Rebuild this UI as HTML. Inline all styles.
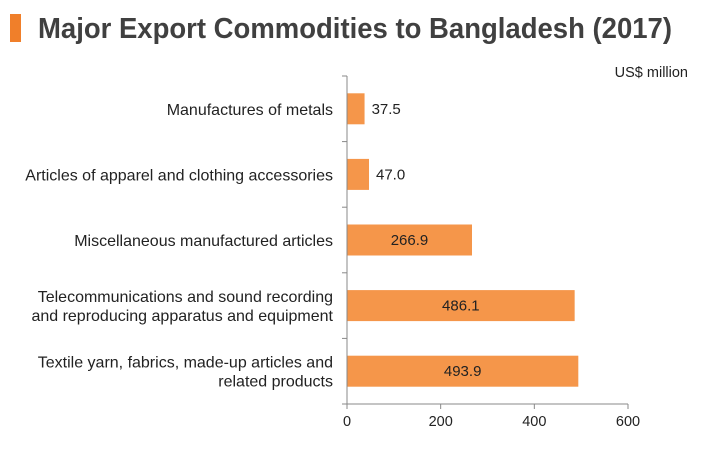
<!DOCTYPE html>
<html><head><meta charset="utf-8"><style>
html,body{margin:0;padding:0;background:#fff;width:702px;height:452px;overflow:hidden}
svg{display:block;font-family:"Liberation Sans",Arial,sans-serif}
</style></head><body>
<svg id="chart" width="702" height="452" viewBox="0 0 702 452">
<rect x="10" y="14" width="11" height="28" fill="#f07f2a"/>
<text x="38" y="38" font-size="29" font-weight="bold" fill="#404040" textLength="634" lengthAdjust="spacingAndGlyphs">Major Export Commodities to Bangladesh (2017)</text>
<text x="688" y="77" font-size="14.5" fill="#222" text-anchor="end">US$ million</text>
<g id="plot"></g>
</svg>
<script>
const categories = [
  ["Manufactures of metals"],
  ["Articles of apparel and clothing accessories"],
  ["Miscellaneous manufactured articles"],
  ["Telecommunications and sound recording","and reproducing apparatus and equipment"],
  ["Textile yarn, fabrics, made-up articles and","related products"]
];
const values = [37.5, 47.0, 266.9, 486.1, 493.9];
const valueLabels = ["37.5","47.0","266.9","486.1","493.9"];
const xTicks = [0, 200, 400, 600];

const NS = "http://www.w3.org/2000/svg";
const g = document.getElementById("plot");
const x0 = 347, x1 = 628, xMax = 600, yTop = 76, yBot = 404;
const band = (yBot - yTop) / categories.length;
const xs = v => x0 + (v / xMax) * (x1 - x0);
const yc = i => yTop + band * (i + 0.5);
function el(tag, attrs, txt){const e=document.createElementNS(NS,tag);for(const k in attrs)e.setAttribute(k,attrs[k]);if(txt!==undefined)e.textContent=txt;g.appendChild(e);return e;}

categories.forEach((lines, i) => {
  const cy = yc(i), h = 31;
  const bar = el("rect", {x:x0, y:cy-h/2, width:xs(values[i])-x0, height:h, fill:"#f5964a"});
  
  
  const inside = values[i] > 150;
  const vl = el("text", {x: inside ? (x0+xs(values[i]))/2 : xs(values[i])+7, y:cy+5, "font-size":15, fill:"#222", "text-anchor": inside?"middle":"start"}, valueLabels[i]);
  
  
  const n = lines.length;
  lines.forEach((ln, j) => {
    const t = el("text", {x:333, y:cy+6+(j-(n-1)/2)*19, "font-size":16, fill:"#222", "text-anchor":"end"}, ln);
    
    
  });
});
for (let i = 0; i <= categories.length; i++) {
  const y = yTop + band * i;
  const tk = el("line", {x1:x0-5, x2:x0, y1:y, y2:y, stroke:"#888"});
  
  
}
const ya = el("line", {x1:x0, x2:x0, y1:yTop, y2:yBot, stroke:"#888"});


const xa = el("line", {x1:x0, x2:x1, y1:yBot, y2:yBot, stroke:"#888"});


xTicks.forEach(v => {
  const t = el("line", {x1:xs(v), x2:xs(v), y1:yBot, y2:yBot+5, stroke:"#888"});
  
  
  const l = el("text", {x:xs(v), y:yBot+22, "font-size":14.5, fill:"#222", "text-anchor":"middle"}, String(v));
  
  
});
</script>
</body></html>
